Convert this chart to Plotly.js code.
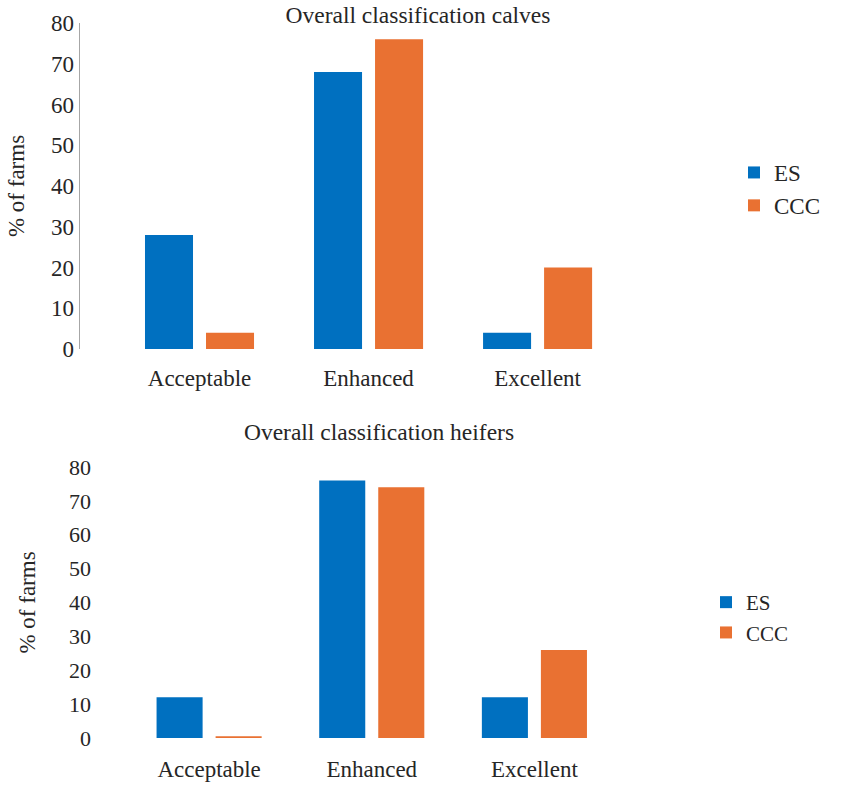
<!DOCTYPE html>
<html>
<head>
<meta charset="utf-8">
<script src="https://cdn.plot.ly/plotly-3.0.1.min.js"></script>
<style>
  html, body { margin: 0; padding: 0; background: #fff; }
  #top { position: absolute; left: 0; top: 0; width: 851px; height: 400px; }
  #bottom { position: absolute; left: 0; top: 400px; width: 851px; height: 386px; }
</style>
</head>
<body>
<div id="top"></div>
<div id="bottom"></div>
<script>
// ---- data ----
const categories = ["Acceptable", "Enhanced", "Excellent"];
const seriesNames = ["ES", "CCC"];
const calvesES = [28, 68, 4];
const calvesCCC = [4, 76, 20];
const heifersES = [12, 76, 12];
const heifersCCC = [0.5, 74, 26];
const yTickValues = [0, 10, 20, 30, 40, 50, 60, 70, 80];
const titleCalves = "Overall classification calves";
const titleHeifers = "Overall classification heifers";
const yTitle = "% of farms";

const BLUE = "#0070C0";
const ORANGE = "#E97132";
const TXT = "#262626";
const FONT = "Liberation Serif";

function traces(es, ccc) {
  return [
    { type: "bar", name: seriesNames[0], x: categories, y: es, marker: { color: BLUE }, hoverinfo: "none" },
    { type: "bar", name: seriesNames[1], x: categories, y: ccc, marker: { color: ORANGE }, hoverinfo: "none" }
  ];
}

const config = { staticPlot: true, displayModeBar: false };

// ---- top chart ----
Plotly.newPlot("top", traces(calvesES, calvesCCC), {
  width: 851, height: 400,
  margin: { l: 80, r: 212, t: 23, b: 51, pad: 0 },
  paper_bgcolor: "#fff", plot_bgcolor: "#fff",
  font: { family: FONT, color: TXT, size: 23 },
  title: { text: titleCalves, x: 418 / 851, xanchor: "center", y: 1 - 15 / 400, yanchor: "middle",
           font: { family: FONT, size: 23.5, color: TXT } },
  barmode: "group", bargap: 0.278, bargroupgap: 0.213,
  showlegend: true,
  legend: { x: (734 - 80) / 559, xanchor: "left", y: (349 - 189) / 326, yanchor: "middle",
            font: { family: FONT, size: 23, color: TXT }, bgcolor: "rgba(0,0,0,0)" },
  xaxis: { type: "category", range: [-0.707, 2.6], showgrid: false, zeroline: false, showline: false,
           ticks: "", ticklabelstandoff: 13, tickfont: { family: FONT, size: 23, color: TXT } },
  yaxis: { range: [0, 80], tickvals: yTickValues, showgrid: false, zeroline: false,
           showline: true, linecolor: "#A6A6A6", linewidth: 1.5, ticks: "",
           tickfont: { family: FONT, size: 23, color: TXT },
           automargin: false,
           title: { text: yTitle, font: { family: FONT, size: 23, color: TXT }, standoff: 20 } }
}, config);

// ---- bottom chart ----
Plotly.newPlot("bottom", traces(heifersES, heifersCCC), {
  width: 851, height: 386,
  margin: { l: 92, r: 219, t: 67, b: 48, pad: 0 },
  paper_bgcolor: "#fff", plot_bgcolor: "#fff",
  font: { family: FONT, color: TXT, size: 22 },
  title: { text: titleHeifers, x: 379 / 851, xanchor: "center", y: 1 - 32 / 386, yanchor: "middle",
           font: { family: FONT, size: 23.5, color: TXT } },
  barmode: "group", bargap: 0.274, bargroupgap: 0.22,
  showlegend: true,
  legend: { x: (706 - 92) / 540, xanchor: "left", y: (338 - 217.5) / 271, yanchor: "middle",
            font: { family: FONT, size: 21, color: TXT }, bgcolor: "rgba(0,0,0,0)" },
  xaxis: { type: "category", range: [-0.72, 2.6], showgrid: false, zeroline: false, showline: false,
           ticks: "", ticklabelstandoff: 15, tickfont: { family: FONT, size: 23, color: TXT } },
  yaxis: { range: [0, 80], tickvals: yTickValues, showgrid: false, zeroline: false,
           showline: false, ticks: "",
           tickfont: { family: FONT, size: 22, color: TXT },
           automargin: false,
           title: { text: yTitle, font: { family: FONT, size: 23, color: TXT }, standoff: 26 } }
}, config);
</script>
</body>
</html>
